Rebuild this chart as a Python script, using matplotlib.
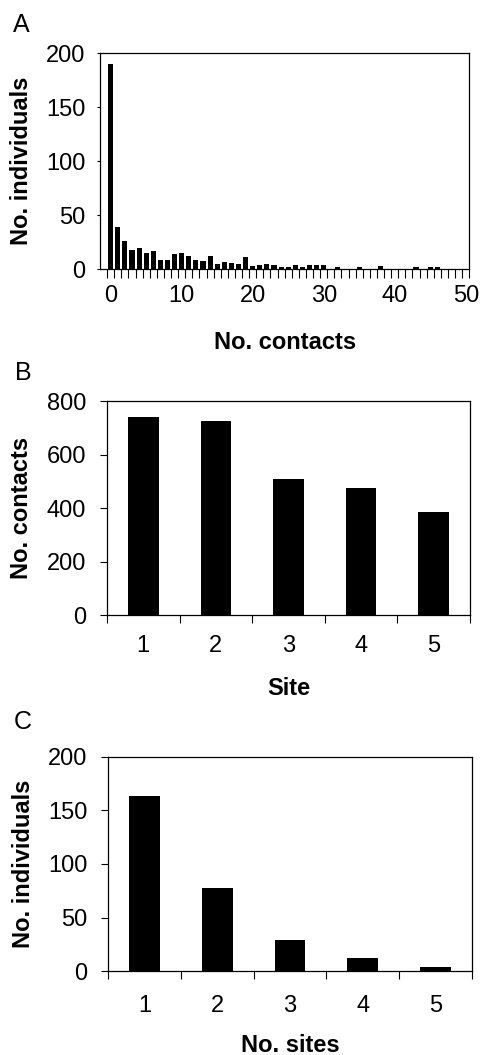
import matplotlib
matplotlib.use("Agg")
import matplotlib.pyplot as plt
from matplotlib.ticker import FixedLocator

plt.rcParams['font.family'] = ['Liberation Sans', 'DejaVu Sans']

# Panel A : distribution du nombre de contacts par individu
contacts = list(range(0, 51))
individuals_per_contact = [190, 39, 26, 18, 20, 15, 17, 9, 9, 14,
                           15, 12, 9, 8, 12, 5, 7, 6, 5, 11,
                           3, 4, 5, 4, 2, 2, 4, 2, 4, 4,
                           4, 0, 2, 0, 0, 2, 0, 0, 3, 0,
                           0, 0, 0, 2, 0, 2, 2, 0, 0, 0,
                           0]

# Panel B : nombre de contacts par site
sites = [1, 2, 3, 4, 5]
contacts_per_site = [739, 726, 507, 476, 384]

# Panel C : nombre d'individus selon le nombre de sites visités
n_sites = [1, 2, 3, 4, 5]
individuals_per_nsites = [163, 78, 29, 12, 4]

W, H = 480, 1055
fig = plt.figure(figsize=(W / 100, H / 100), dpi=100)


def box(left, top, right, bottom):
    return [left / W, (H - bottom) / H, (right - left) / W, (bottom - top) / H]


fs = 17
lab_fs = 17

# ---- A ----
axA = fig.add_axes(box(100, 53, 469.3, 269.3))
axA.bar(contacts, individuals_per_contact, width=0.72, color='black')
axA.set_xlim(-1.5, 50.5)
axA.set_ylim(0, 200)
axA.set_yticks([0, 50, 100, 150, 200])
axA.set_xticks([0, 10, 20, 30, 40, 50])
axA.xaxis.set_minor_locator(FixedLocator([c - 0.5 for c in contacts] + [50.5]))
axA.tick_params(axis='x', which='major', length=0, pad=11, labelsize=fs)
axA.tick_params(axis='x', which='minor', length=6.5, width=0.8, direction='out')
axA.tick_params(axis='y', length=2.5, width=0.8, pad=8, labelsize=fs)
axA.set_xlabel('No. contacts', fontsize=lab_fs, fontweight='bold', va='center')
axA.set_ylabel('No. individuals', fontsize=lab_fs, fontweight='bold', va='center')
axA.xaxis.set_label_coords(0.5, -73 / 216.3)
axA.yaxis.set_label_coords((22 - 100) / 369.3, 0.5)

# ---- B ----
axB = fig.add_axes(box(107, 401, 470, 615.3))
axB.bar(sites, contacts_per_site, width=0.42, color='black')
axB.set_xlim(0.5, 5.5)
axB.set_ylim(0, 800)
axB.set_yticks([0, 200, 400, 600, 800])
axB.set_xticks(sites)
axB.xaxis.set_minor_locator(FixedLocator([s + 0.5 for s in [0] + sites]))
axB.tick_params(axis='x', which='major', length=0, pad=14, labelsize=fs)
axB.tick_params(axis='x', which='minor', length=6, width=0.8, direction='out')
axB.tick_params(axis='y', length=5, width=0.8, pad=10, labelsize=fs)
axB.set_xlabel('Site', fontsize=lab_fs, fontweight='bold', va='center')
axB.set_ylabel('No. contacts', fontsize=lab_fs, fontweight='bold', va='center')
axB.xaxis.set_label_coords(0.5, -73 / 214.3)
axB.yaxis.set_label_coords((22 - 107) / 363, 0.5)

# ---- C ----
axC = fig.add_axes(box(108.3, 756.7, 471.7, 971.3))
axC.bar(n_sites, individuals_per_nsites, width=0.42, color='black')
axC.set_xlim(0.5, 5.5)
axC.set_ylim(0, 200)
axC.set_yticks([0, 50, 100, 150, 200])
axC.set_xticks(n_sites)
axC.xaxis.set_minor_locator(FixedLocator([s + 0.5 for s in [0] + n_sites]))
axC.tick_params(axis='x', which='major', length=0, pad=17, labelsize=fs)
axC.tick_params(axis='x', which='minor', length=6, width=0.8, direction='out')
axC.tick_params(axis='y', length=5, width=0.8, pad=10, labelsize=fs)
axC.set_xlabel('No. sites', fontsize=lab_fs, fontweight='bold', va='center')
axC.set_ylabel('No. individuals', fontsize=lab_fs, fontweight='bold', va='center')
axC.xaxis.set_label_coords(0.5, -74 / 214.6)
axC.yaxis.set_label_coords((24 - 108.3) / 363.4, 0.5)

for ax in (axA, axB, axC):
    for sp in ax.spines.values():
        sp.set_linewidth(0.9)

# lettres des panneaux
fig.text(21 / W, 1 - 25 / H, 'A', fontsize=18, ha='center', va='center')
fig.text(23 / W, 1 - 373 / H, 'B', fontsize=18, ha='center', va='center')
fig.text(23 / W, 1 - 722 / H, 'C', fontsize=18, ha='center', va='center')

fig.savefig('out.png', dpi=100)
